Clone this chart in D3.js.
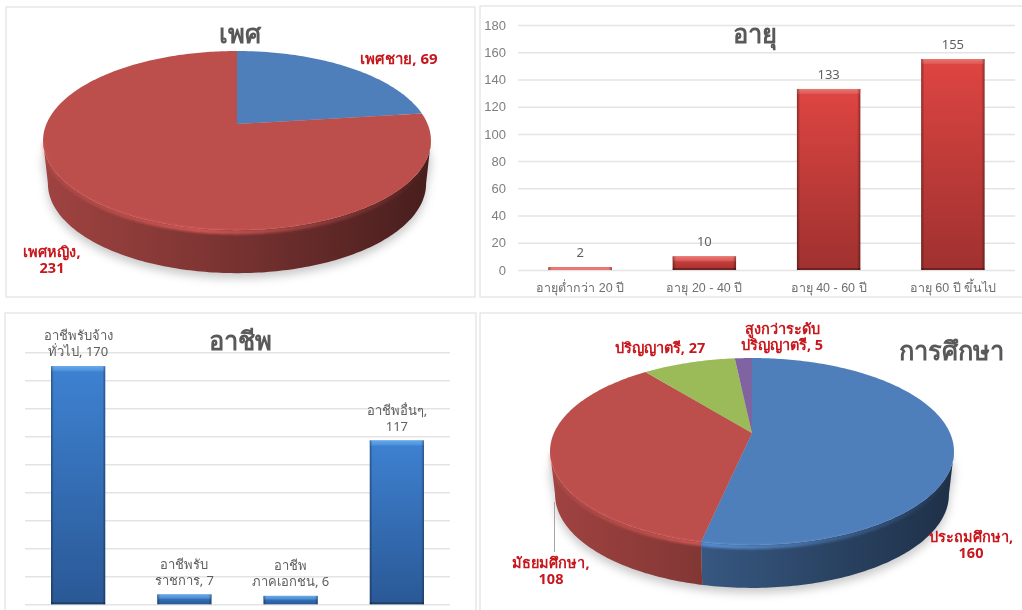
<!DOCTYPE html>
<html>
<head>
<meta charset="utf-8">
<script src="https://cdn.jsdelivr.net/npm/d3@7"></script>
<style>
html, body { margin: 0; padding: 0; background: #fff; overflow: hidden; }
svg { display: block; font-family: "Noto Sans", "Open Sans", "DejaVu Sans", sans-serif; filter: blur(0.45px); }
.domain { display: none; }
</style>
</head>
<body>
<div id="mainArea"></div>
<script>
// data
var genderNames = ["เพศชาย", "เพศหญิง"];
var genderValues = [69, 231];

var ageNames = ["อายุต่ำกว่า 20 ปี", "อายุ 20 - 40 ปี", "อายุ 40 - 60 ปี", "อายุ 60 ปี ขึ้นไป"];
var ageValues = [2, 10, 133, 155];
var ageTicks = [0, 20, 40, 60, 80, 100, 120, 140, 160, 180];

var jobNames = ["อาชีพรับจ้างทั่วไป", "อาชีพรับราชการ", "อาชีพภาคเอกชน", "อาชีพอื่นๆ"];
var jobValues = [170, 7, 6, 117];
var jobLabelLines = [["อาชีพรับจ้าง", "ทั่วไป, 170"], ["อาชีพรับ", "ราชการ, 7"], ["อาชีพ", "ภาคเอกชน, 6"], ["อาชีพอื่นๆ,", "117"]];

var eduNames = ["ประถมศึกษา", "มัธยมศึกษา", "ปริญญาตรี", "สูงกว่าระดับปริญญาตรี"];
var eduValues = [160, 108, 27, 5];

var pieBlue = "#4f7fbb", pieRed = "#bc4f4c", pieGreen = "#9bbb59", piePurple = "#8064a2";
var gridColor = "#e4e4e4", frameColor = "#e2e2e2", titleColor = "#595959", redText = "#c8161d";

var width = 1022, height = 610;
var vis = d3.select("#mainArea").append("svg")
    .attr("width", width)
    .attr("height", height);
var defs = vis.append("defs");
var gradId = 0;

defs.append("filter").attr("id", "soft").append("feGaussianBlur").attr("stdDeviation", 0.9);
defs.append("filter").attr("id", "shadow")
    .attr("x", "-10%").attr("y", "-10%").attr("width", "120%").attr("height", "120%")
    .append("feGaussianBlur").attr("stdDeviation", 5);

// frames of the four panels
[[6, 7, 469, 290], [480, 6, 560, 291], [5, 313, 471, 320], [480, 313, 560, 320]].forEach(function(f) {
    vis.append("rect")
        .attr("x", f[0]).attr("y", f[1]).attr("width", f[2]).attr("height", f[3])
        .attr("fill", "#fff").attr("stroke", frameColor).attr("stroke-width", 1.2);
});

function linearGrad(stops, x1, x2, y1, y2, units) {
    var id = "g" + (gradId++);
    var g = defs.append("linearGradient").attr("id", id)
        .attr("x1", x1).attr("x2", x2).attr("y1", y1).attr("y2", y2);
    if (units) g.attr("gradientUnits", units);
    stops.forEach(function(s) {
        g.append("stop").attr("offset", s[0]).attr("stop-color", s[1]).attr("stop-opacity", s[2] === undefined ? 1 : s[2]);
    });
    return "url(#" + id + ")";
}

function drawTitle(text, x, y) {
    vis.append("text").attr("x", x).attr("y", y)
        .attr("text-anchor", "middle")
        .attr("font-size", 25.5).attr("font-weight", "bold")
        .attr("fill", titleColor)
        .text(text);
}

function drawLines(lines, x, y, size, color, weight, step) {
    var t = vis.append("text").attr("text-anchor", "middle")
        .attr("font-size", size).attr("font-weight", weight).attr("fill", color);
    lines.forEach(function(line, i) {
        t.append("tspan").attr("x", x).attr("y", y + i * step).text(line);
    });
}

// pie with a thick rim, seen in perspective. A point of the unit circle is
// projected so the centre of the pie lands above the middle of the ellipse.
function drawPie(o) {
    var slices = d3.pie().sort(null)(o.values);
    var lineGen = d3.line().x(function(d) { return d[0]; }).y(function(d) { return d[1]; });

    function project(a) {
        var X = Math.sin(a), Y = Math.cos(a), w = 1 + o.k * Y;
        return [o.cx + o.A * X / w, o.cy - o.B * Y / w];
    }
    function lower(p) {
        return [o.cx + (p[0] - o.cx) * 0.975, p[1] + o.depth];
    }
    function arcPoints(a0, a1) {
        var n = Math.max(2, Math.ceil((a1 - a0) * 60));
        return d3.range(n + 1).map(function(i) { return project(a0 + (a1 - a0) * i / n); });
    }

    var frontStart = Math.acos(-o.k), frontEnd = 2 * Math.PI - frontStart;
    var rx = o.A / Math.sqrt(1 - o.k * o.k);

    // shadow under the pie
    vis.append("path")
        .attr("d", lineGen(arcPoints(frontStart, frontEnd).map(lower).concat(arcPoints(frontEnd, frontStart + 2 * Math.PI).map(function(p) { return [p[0], p[1] + 20]; }))) + "Z")
        .attr("transform", "translate(0,5)")
        .attr("fill", "#777").attr("opacity", 0.4)
        .attr("filter", "url(#shadow)");

    // rim
    slices.forEach(function(s, i) {
        var a0 = Math.max(s.startAngle, frontStart), a1 = Math.min(s.endAngle, frontEnd);
        if (a1 <= a0) return;
        var pts = arcPoints(a0, a1);
        var fade = d3.interpolateRgb("#000", o.colors[i]);
        var fill = linearGrad([[0, fade(0.85)], [0.4, fade(0.68)], [1, fade(0.38)]],
            o.cx - rx, o.cx + rx, 0, 0, "userSpaceOnUse");
        vis.append("path")
            .attr("d", lineGen(pts.concat(pts.map(lower).reverse())) + "Z")
            .attr("fill", fill);
    });

    // top face
    slices.forEach(function(s, i) {
        vis.append("path")
            .attr("d", lineGen([[o.cx, o.cy]].concat(arcPoints(s.startAngle, s.endAngle))) + "Z")
            .attr("fill", o.colors[i]);
    });

    // lighter bevel along the front edge, tinted like the slice under it
    slices.forEach(function(s, i) {
        var a0 = Math.max(s.startAngle, frontStart), a1 = Math.min(s.endAngle, frontEnd);
        if (a1 <= a0) return;
        var light = d3.rgb(o.colors[i]).brighter(0.5).formatHex();
        var bevel = linearGrad([[0, light, 0.15], [0.4, light, 0.8], [0.7, light, 0.35], [1, light, 0]],
            o.cx - rx, o.cx + rx, 0, 0, "userSpaceOnUse");
        vis.append("path")
            .attr("d", lineGen(arcPoints(a0, a1)))
            .attr("transform", "translate(0,2)")
            .attr("fill", "none")
            .attr("stroke", bevel).attr("stroke-width", 4.5)
            .attr("filter", "url(#soft)");
    });
}

// bar chart with a fake bevelled look
function drawBars(o) {
    var x = d3.scaleBand().domain(o.names).range([o.left, o.right]).paddingInner(0.49).paddingOuter(0.245);
    var y = d3.scaleLinear().domain([0, 180]).range([o.base, o.top]);

    var yAxis = d3.axisLeft(y).tickValues(ageTicks).tickSize(o.left - o.right).tickPadding(12);
    if (!o.showTicks) yAxis.tickFormat("");
    var gy = vis.append("g").attr("transform", "translate(" + o.left + ",0)").call(yAxis);
    gy.selectAll("line").attr("stroke", gridColor).attr("stroke-width", 1.5);
    gy.selectAll("text").attr("fill", "#7f7f7f").attr("font-size", 13).attr("font-family", "inherit");

    if (o.showNames) {
        var xAxis = d3.axisBottom(x).tickSize(0).tickPadding(13);
        var gx = vis.append("g").attr("transform", "translate(0," + o.base + ")").call(xAxis);
        gx.selectAll("text").attr("fill", "#6f6f6f").attr("font-size", 12.5).attr("font-family", "inherit");
    }

    var body = linearGrad([[0, o.colors[0]], [1, o.colors[1]]], 0, 0, 0, 1);
    var sides = linearGrad([[0, "#000", 0.38], [0.05, "#000", 0.02], [0.95, "#000", 0.02], [1, "#000", 0.38]], 0, 1, 0, 0);
    var cap = linearGrad([[0, o.colors[2]], [1, o.colors[2], 0.35]], 0, 0, 0, 1);

    o.values.forEach(function(v, i) {
        var bx = x(o.names[i]), bw = x.bandwidth(), by = y(v), bh = y(0) - y(v);
        vis.append("rect").attr("x", bx).attr("y", by).attr("width", bw).attr("height", bh).attr("fill", body);
        vis.append("rect").attr("x", bx).attr("y", by).attr("width", bw).attr("height", Math.max(Math.min(5, bh * 0.45), Math.min(bh, 3)))
            .attr("fill", bh < 5 ? o.colors[2] : cap);
        vis.append("rect").attr("x", bx).attr("y", by).attr("width", bw).attr("height", bh).attr("fill", sides);
        if (bh > 10) {
            vis.append("rect").attr("x", bx).attr("y", o.base - 2).attr("width", bw).attr("height", 2)
                .attr("fill", "#000").attr("opacity", 0.3);
        }
        var lines = o.labels ? o.labels[i] : [String(v)];
        var cx = bx + bw / 2;
        drawLines(lines, cx, by - 10 - (lines.length - 1) * 16, 13, "#5f5f5f", "normal", 16);
    });
}

// top left: gender
drawPie({ values: genderValues, colors: [pieBlue, pieRed], cx: 237, cy: 124, A: 190.6, B: 86.5, k: 0.185, depth: 43 });
drawTitle("เพศ", 240, 43);
drawLines([genderNames[0] + ", " + genderValues[0]], 399, 64, 15, redText, "bold", 16);
drawLines([genderNames[1] + ",", String(genderValues[1])], 52, 257, 14.5, redText, "bold", 16);

// top right: age
drawBars({
    names: ageNames, values: ageValues, left: 518, right: 1015, base: 270, top: 25,
    colors: ["#e24643", "#a23230", "#ec7a76"], showTicks: true, showNames: true
});
drawTitle("อายุ", 755, 43);

// bottom left: occupation
drawBars({
    names: jobNames, values: jobValues, labels: jobLabelLines, left: 25, right: 450, base: 604.3, top: 352.3,
    colors: ["#3f84d6", "#2b5a98", "#66acee"], showTicks: false, showNames: false
});
drawTitle("อาชีพ", 240, 350);

// bottom right: education
drawPie({ values: eduValues, colors: [pieBlue, pieRed, pieGreen, piePurple], cx: 752, cy: 433, A: 198, B: 89.8, k: 0.1976, depth: 43 });
drawTitle("การศึกษา", 951, 360);
vis.append("line").attr("x1", 554.5).attr("x2", 554.5).attr("y1", 502).attr("y2", 552)
    .attr("stroke", "#a6a6a6").attr("stroke-width", 1);
drawLines(["สูงกว่าระดับ", "ปริญญาตรี, " + eduValues[3]], 782, 334, 14.5, redText, "bold", 16);
drawLines([eduNames[2] + ", " + eduValues[2]], 660, 353, 14.5, redText, "bold", 16);
drawLines([eduNames[0] + ",", String(eduValues[0])], 971, 542, 14.5, redText, "bold", 16);
drawLines([eduNames[1] + ",", String(eduValues[1])], 551, 568, 14.5, redText, "bold", 16);
</script>
</body>
</html>
